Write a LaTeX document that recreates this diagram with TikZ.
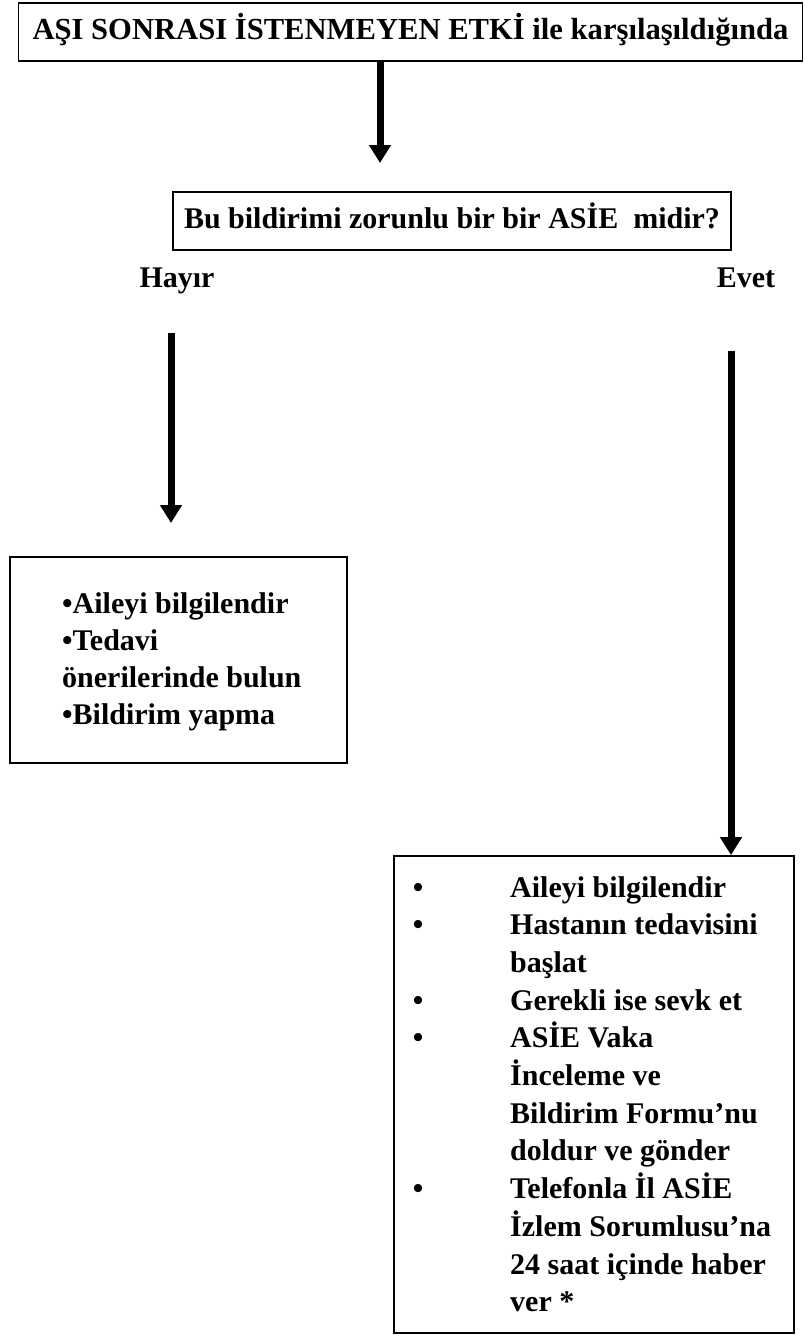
\documentclass[tikz,border=0pt]{standalone}
\usepackage{fontspec}
\setmainfont{Liberation Serif}
\usetikzlibrary{arrows.meta}
\begin{document}
\begin{tikzpicture}[x=1pt,y=-1pt,
  every node/.style={font=\fontsize{30}{37.5}\selectfont\bfseries},
  boxnode/.style={draw, line width=1.8pt, inner sep=0pt, text height=22pt, text depth=7pt},
  frame/.style={draw, line width=1.8pt, inner sep=0pt},
  txt/.style={inner sep=0pt, anchor=base west},
  arr/.style={line width=7pt, -{Triangle[width=21pt,length=18pt]}}]
\useasboundingbox[fill=white] (0,0) rectangle (805,1336);
% top box
\node[boxnode, minimum width=784pt, minimum height=58pt, font=\fontsize{30.6}{37.5}\selectfont\bfseries] (title) at (410.5,32)
  {AŞI SONRASI İSTENMEYEN ETKİ ile karşılaşıldığında};
\coordinate (a1) at (380,163);
\draw[arr] (title.south -| a1) -- (a1);
% question box
\node[boxnode, minimum width=558pt, minimum height=58pt] (q) at (452,221)
  {Bu bildirimi zorunlu bir bir ASİE\ \ midir?};
\node[txt, anchor=base] (hayir) at (177,287) {Hayır};
\node[txt, anchor=base] (evet) at (746,287) {Evet};
% left branch
\coordinate (h1) at (171,333);
\coordinate (h2) at (171,523);
\draw[arr] (h1) -- (h2);
\node[frame, minimum width=337pt, minimum height=206pt] (lbox) at (178.5,660) {};
\foreach \t [count=\i] in {•Aileyi bilgilendir, •Tedavi, önerilerinde bulun, •Bildirim yapma}
  \node[txt] (l\i) at (62,{613+37*(\i-1)}) {\t};
% right branch
\node[frame, minimum width=400pt, minimum height=477pt] (rbox) at (594,1094.5) {};
\coordinate (e1) at (731,351);
\draw[arr] (e1) -- (e1 |- rbox.north);
\foreach \t [count=\i] in {Aileyi bilgilendir, Hastanın tedavisini, başlat, Gerekli ise sevk et, ASİE Vaka, İnceleme ve, Bildirim Formu’nu, doldur ve gönder, Telefonla İl ASİE, İzlem Sorumlusu’na, 24 saat içinde haber, ver *}
  \node[txt] (r\i) at (510,{897+37.7*(\i-1)}) {\t};
\foreach \i in {1,2,4,5,9}
  \node[txt, anchor=base] (b\i) at (418,{897+37.7*(\i-1)}) {•};
\end{tikzpicture}
\end{document}
